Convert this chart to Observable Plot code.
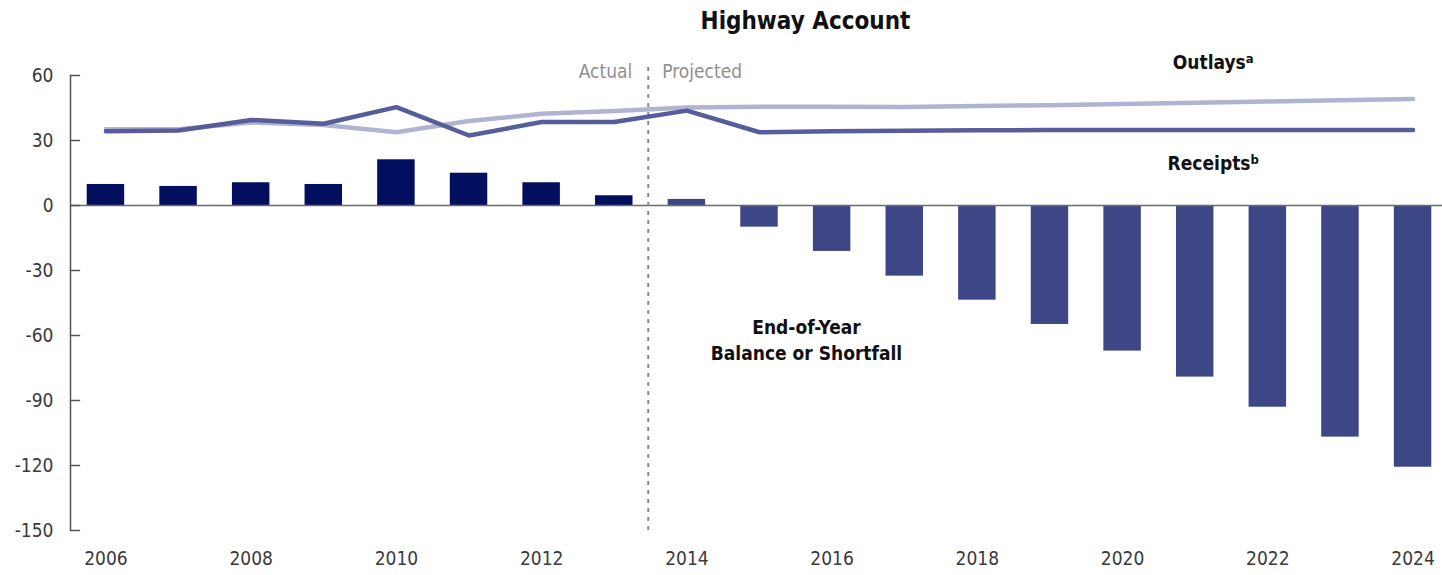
<!DOCTYPE html>
<html>
<head>
<meta charset="utf-8">
<script src="https://cdn.jsdelivr.net/npm/d3@7"></script>
<script src="https://cdn.jsdelivr.net/npm/@observablehq/plot@0.6"></script>
<style>
  html, body { margin: 0; padding: 0; background: #fff; }
  #chart svg { display: block; overflow: visible; }
</style>
</head>
<body>
<div id="chart"></div>
<script>
// ---- data ----
const years = [2006, 2007, 2008, 2009, 2010, 2011, 2012, 2013, 2014, 2015, 2016, 2017, 2018, 2019, 2020, 2021, 2022, 2023, 2024];
const balance = [9.7, 8.8, 10.5, 9.7, 21.1, 14.9, 10.5, 4.5, 2.8, -10.0, -21.2, -32.6, -43.7, -54.9, -67.2, -79.2, -93.1, -106.9, -120.8];
const receipts = [34.3, 34.6, 39.5, 37.7, 45.4, 32.3, 38.5, 38.5, 43.8, 33.8, 34.3, 34.5, 34.7, 34.8, 34.9, 34.9, 34.9, 34.9, 34.9];
const outlays = [35.2, 35.2, 38.3, 37.2, 33.8, 39.0, 42.3, 43.6, 45.2, 45.6, 45.6, 45.5, 45.9, 46.3, 46.8, 47.4, 48.0, 48.6, 49.2];
const lastActualYear = 2013;
const yTicks = [60, 30, 0, -30, -60, -90, -120, -150];
const xTicks = [2006, 2008, 2010, 2012, 2014, 2016, 2018, 2020, 2022, 2024];
const title = "Highway Account";
const seriesLabels = [
  {text: "Outlays", sup: "a", year: 2021, value: 66},
  {text: "Receipts", sup: "b", year: 2021, value: 19.4}
];
const balanceLabel = {text: "End-of-Year\nBalance or Shortfall", year: 2015, value: -61.3};
const phaseLabels = [
  {text: "Actual", year: lastActualYear, value: 61.5, side: "end"},
  {text: "Projected", year: lastActualYear, value: 61.5, side: "start"}
];

const rows = years.map((year, i) => ({year, balance: balance[i], receipts: receipts[i], outlays: outlays[i]}));

const FONT = '"Liberation Sans Narrow", "DejaVu Sans Condensed", "Roboto Condensed", sans-serif';
const halfStep = 34;

const tickShape = {draw(context, l) { context.moveTo(0, 0); context.lineTo(0, -l); }};

const chart = Plot.plot({
  width: 1442,
  height: 575,
  marginTop: 75,
  marginBottom: 45,
  marginLeft: 70,
  marginRight: 0,
  style: {fontFamily: FONT, fontSize: "19px", color: "#3a3a3a", background: "#fff", fontStretch: "condensed"},
  x: {type: "band", domain: years, range: [70, 1448], paddingInner: 0.484, paddingOuter: 0.23, align: 0.5, round: false, label: null},
  y: {domain: [-150, 60], label: null},
  marks: [
    Plot.barY(rows.filter(d => d.year <= lastActualYear), {x: "year", y: "balance", fill: "#020f5e"}),
    Plot.barY(rows.filter(d => d.year > lastActualYear), {x: "year", y: "balance", fill: "#3e4786"}),
    Plot.ruleY([0], {stroke: "#6b6b6b", strokeWidth: 1.5}),
    Plot.frame({anchor: "left", stroke: "#555", strokeWidth: 1.5}),
    Plot.vector(yTicks, {y: d => d, frameAnchor: "left", length: 9, rotate: 90, anchor: "start", shape: tickShape, stroke: "#555", strokeWidth: 1.5}),
    Plot.axisY({ticks: yTicks, tickSize: 0, tickPadding: 17, tickFormat: d => String(d), fontSize: 19, label: null}),
    Plot.axisX({ticks: xTicks, tickSize: 0, tickPadding: 21, tickFormat: d => String(d), fontSize: 19, label: null}),
    Plot.ruleX([lastActualYear], {dx: halfStep, y1: -150, y2: 66, stroke: "#8a8a8a", strokeWidth: 2, strokeDasharray: "4,5"}),
    Plot.line(rows, {x: "year", y: "outlays", stroke: "#b1b3d2", strokeWidth: 4.5, strokeLinecap: "round", strokeLinejoin: "round"}),
    Plot.line(rows, {x: "year", y: "receipts", stroke: "#575d9b", strokeWidth: 4.5, strokeLinecap: "round", strokeLinejoin: "round"}),
    Plot.text(phaseLabels.filter(d => d.side === "end"), {x: "year", y: "value", text: "text", dx: halfStep - 16, textAnchor: "end", fill: "#8f8f8f", fontSize: 19}),
    Plot.text(phaseLabels.filter(d => d.side === "start"), {x: "year", y: "value", text: "text", dx: halfStep + 14, textAnchor: "start", fill: "#8f8f8f", fontSize: 19}),
    Plot.text(seriesLabels, {x: "year", y: "value", text: "text", dx: 18, fill: "#111", fontWeight: "bold", fontSize: 19, className: "serieslabel"}),
    Plot.text([balanceLabel], {x: "year", y: "value", text: "text", dx: 47, fill: "#111", fontWeight: "bold", fontSize: 19, lineHeight: 1.4}),
    Plot.text([title], {text: d => d, frameAnchor: "top", dy: -64, dx: 49, fill: "#111", fontWeight: "bold", fontSize: 24})
  ]
});

document.getElementById("chart").appendChild(chart);

// superscripts on the series labels
d3.select(chart).selectAll(".serieslabel text").each(function(d, i) {
  const lab = seriesLabels[i];
  d3.select(this).append("tspan").attr("dy", "-0.45em").attr("font-size", "13px").text(lab.sup);
});
</script>
</body>
</html>
